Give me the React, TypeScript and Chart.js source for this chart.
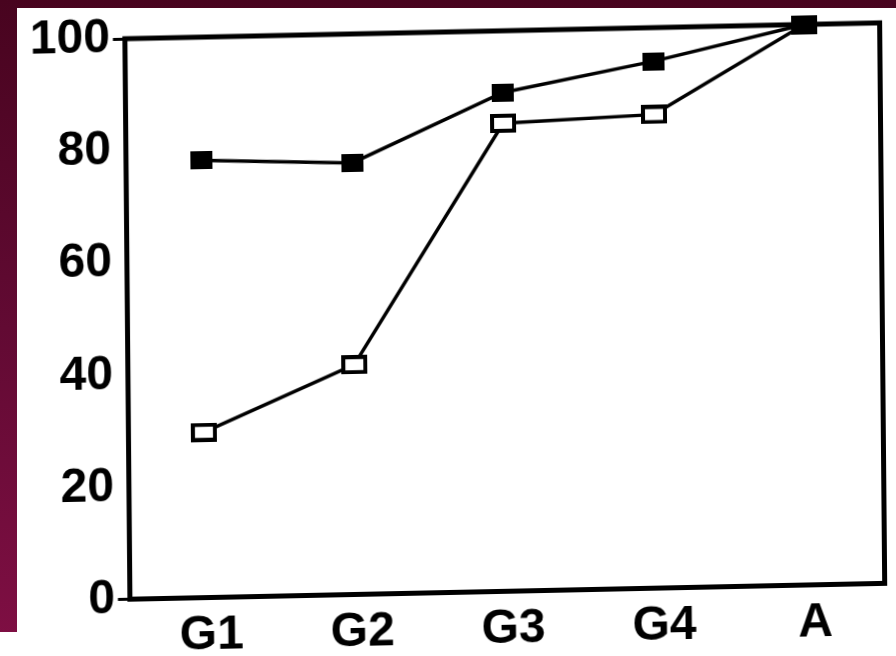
import React, { useEffect, useRef } from "react";
import { Chart, registerables } from "chart.js";

Chart.register(...registerables);

const categories = ["G1", "G2", "G3", "G4", "A"];
const filledSeries = [78, 77, 89, 94, 100];
const openSeries = [29.5, 41, 83.5, 84.5, 100];
const yTicks = [0, 20, 40, 60, 80, 100];

function makeMarker(w: number, h: number, filled: boolean) {
  const c = document.createElement("canvas");
  c.width = w;
  c.height = h;
  const g = c.getContext("2d")!;
  if (filled) {
    g.fillStyle = "#000";
    g.fillRect(0, 0, w, h);
  } else {
    g.fillStyle = "#fff";
    g.fillRect(0, 0, w, h);
    g.strokeStyle = "#000";
    g.lineWidth = 4;
    g.strokeRect(2, 2, w - 4, h - 4);
  }
  return c;
}

const frame = {
  id: "frame",
  afterDraw(chart: any) {
    const { ctx, chartArea } = chart;
    ctx.save();
    ctx.strokeStyle = "#000";
    ctx.lineWidth = 5;
    ctx.strokeRect(chartArea.left, chartArea.top, chartArea.right - chartArea.left, chartArea.bottom - chartArea.top);
    ctx.restore();
  },
};

export default function App() {
  const ref = useRef<HTMLCanvasElement>(null);
  useEffect(() => {
    const filledMarker = makeMarker(22, 18, true);
    const openMarker = makeMarker(26, 19, false);
    const font = { family: "'Liberation Sans', Arial, sans-serif", size: 48, weight: "bold" as const };
    const chart = new Chart(ref.current!, {
      type: "line",
      data: {
        labels: categories,
        datasets: [
          {
            data: filledSeries,
            borderColor: "#000",
            borderWidth: 3.5,
            pointStyle: filledMarker as any,
            pointRadius: 10,
            clip: false as any,
          },
          {
            data: openSeries,
            borderColor: "#000",
            borderWidth: 3.5,
            pointStyle: openMarker as any,
            pointRadius: 10,
            clip: false as any,
          },
        ],
      },
      options: {
        animation: false,
        responsive: false,
        devicePixelRatio: 1,
        layout: { padding: { top: 32, right: 0, left: 0, bottom: 0 } },
        plugins: { legend: { display: false }, tooltip: { enabled: false } },
        scales: {
          x: {
            type: "category",
            offset: true,
            border: { display: false },
            grid: { drawOnChartArea: false, drawTicks: false },
            ticks: { color: "#000", font, padding: 9, labelOffset: 6 },
            afterFit: (s: any) => {
              s.height = 63.5;
            },
          },
          y: {
            min: 0,
            max: 100,
            border: { display: false },
            grid: {
              drawOnChartArea: false,
              tickLength: 12,
              lineWidth: 3,
              color: (c: any) => (c.tick && (c.tick.value === 0 || c.tick.value === 100) ? "#000" : "rgba(0,0,0,0)"),
            },
            afterBuildTicks: (s: any) => {
              s.ticks = yTicks.map((v) => ({ value: v }));
            },
            ticks: { color: "#000", font, padding: 3 },
            afterFit: (s: any) => {
              s.width = 127.6;
            },
          },
        },
      },
      plugins: [frame],
    });
    return () => chart.destroy();
  }, []);

  return (
    <div
      style={{
        position: "fixed",
        left: 0,
        top: 0,
        width: 896,
        height: 656,
        overflow: "hidden",
        background: "linear-gradient(180deg, #48041f 0%, #620a33 50%, #800f44 100%)",
      }}
    >
      <div style={{ position: "absolute", left: 17, top: 8, right: 0, bottom: 0, background: "#fff" }} />
      <div style={{ position: "absolute", left: 0, top: 632, width: 17, height: 24, background: "#fff" }} />
      <canvas
        ref={ref}
        width={896}
        height={656}
        style={{
          position: "absolute",
          left: 0,
          top: 0,
          width: 896,
          height: 656,
          transformOrigin: "448px 328px",
          transform: "matrix(1, -0.021, 0.009, 1, 0, 0)",
        }}
      />
    </div>
  );
}
